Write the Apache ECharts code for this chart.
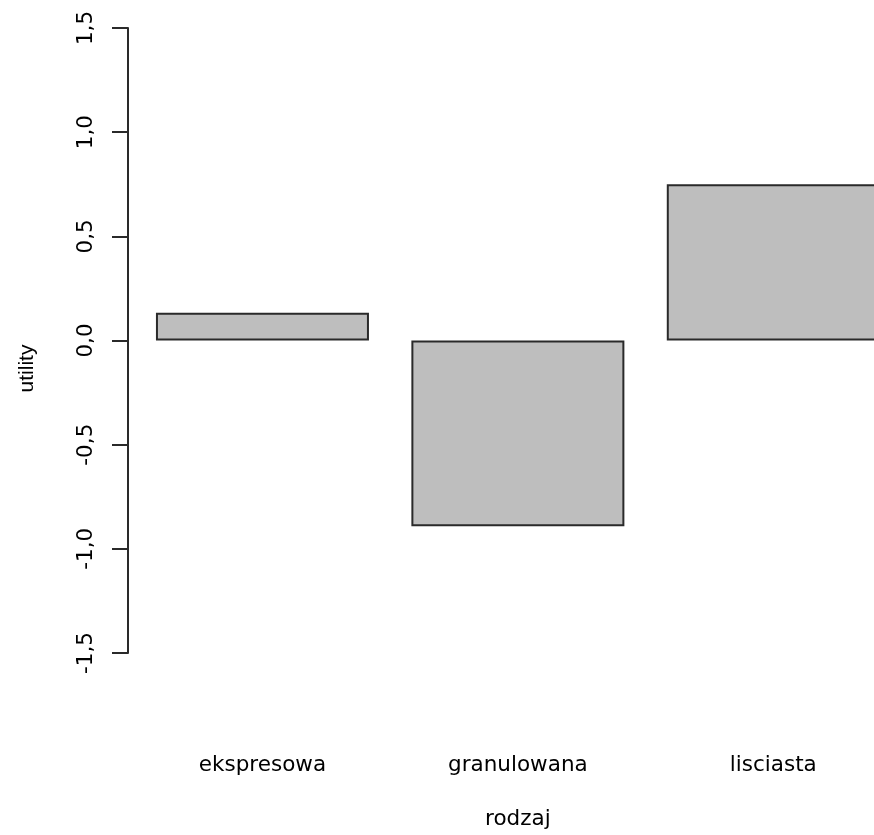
<!DOCTYPE html>
<html>
<head>
<meta charset="utf-8">
<script src="https://cdn.jsdelivr.net/npm/echarts@6/dist/echarts.min.js"></script>
<style>html,body{margin:0;padding:0;background:#fff;overflow:hidden;width:874px;height:835px}#c{width:901px;height:835px}</style>
</head>
<body>
<div id="c"></div>
<script>
var categories = ['ekspresowa', 'granulowana', 'lisciasta'];
var utilityValues = [0.133, -0.892, 0.75];
var yMin = -1.5, yMax = 1.5, yStep = 0.5;
var xName = 'rodzaj';
var yName = 'utility';

var FONT = 'DejaVu Sans';
var chart = echarts.init(document.getElementById('c'), null, {renderer: 'canvas'});
chart.setOption({
  backgroundColor: '#ffffff',
  animation: false,
  grid: {left: 134.75, right: 0, top: 28, bottom: 175, containLabel: false},
  xAxis: {
    type: 'category',
    data: categories,
    boundaryGap: true,
    axisLine: {show: false},
    axisTick: {show: false},
    splitLine: {show: false},
    axisLabel: {margin: 101, color: '#000', fontFamily: FONT, fontSize: 21.5},
    name: xName,
    nameLocation: 'middle',
    nameGap: 155,
    nameTextStyle: {color: '#000', fontFamily: FONT, fontSize: 21.5}
  },
  yAxis: {
    type: 'value',
    min: yMin, max: yMax, interval: yStep,
    offset: 6.75,
    axisLine: {show: true, lineStyle: {color: '#2a2a2a', width: 2}},
    axisTick: {show: true, length: 16, lineStyle: {color: '#2a2a2a', width: 2}},
    splitLine: {show: false},
    axisLabel: {
      rotate: 90, margin: 31, color: '#000', fontFamily: FONT, fontSize: 21.5,
      formatter: function (v) { return v.toFixed(1).replace('.', ','); }
    },
    name: yName,
    nameLocation: 'middle',
    nameGap: 90,
    nameRotate: 90,
    nameTextStyle: {color: '#000', fontFamily: 'Liberation Sans', fontSize: 21, padding: [0, 56, 0, 0]}
  },
  series: [{
    type: 'bar',
    data: utilityValues,
    barWidth: 213,
    itemStyle: {color: '#bebebe', borderColor: '#2a2a2a', borderWidth: 2},
    silent: true
  }]
});
</script>
</body>
</html>
